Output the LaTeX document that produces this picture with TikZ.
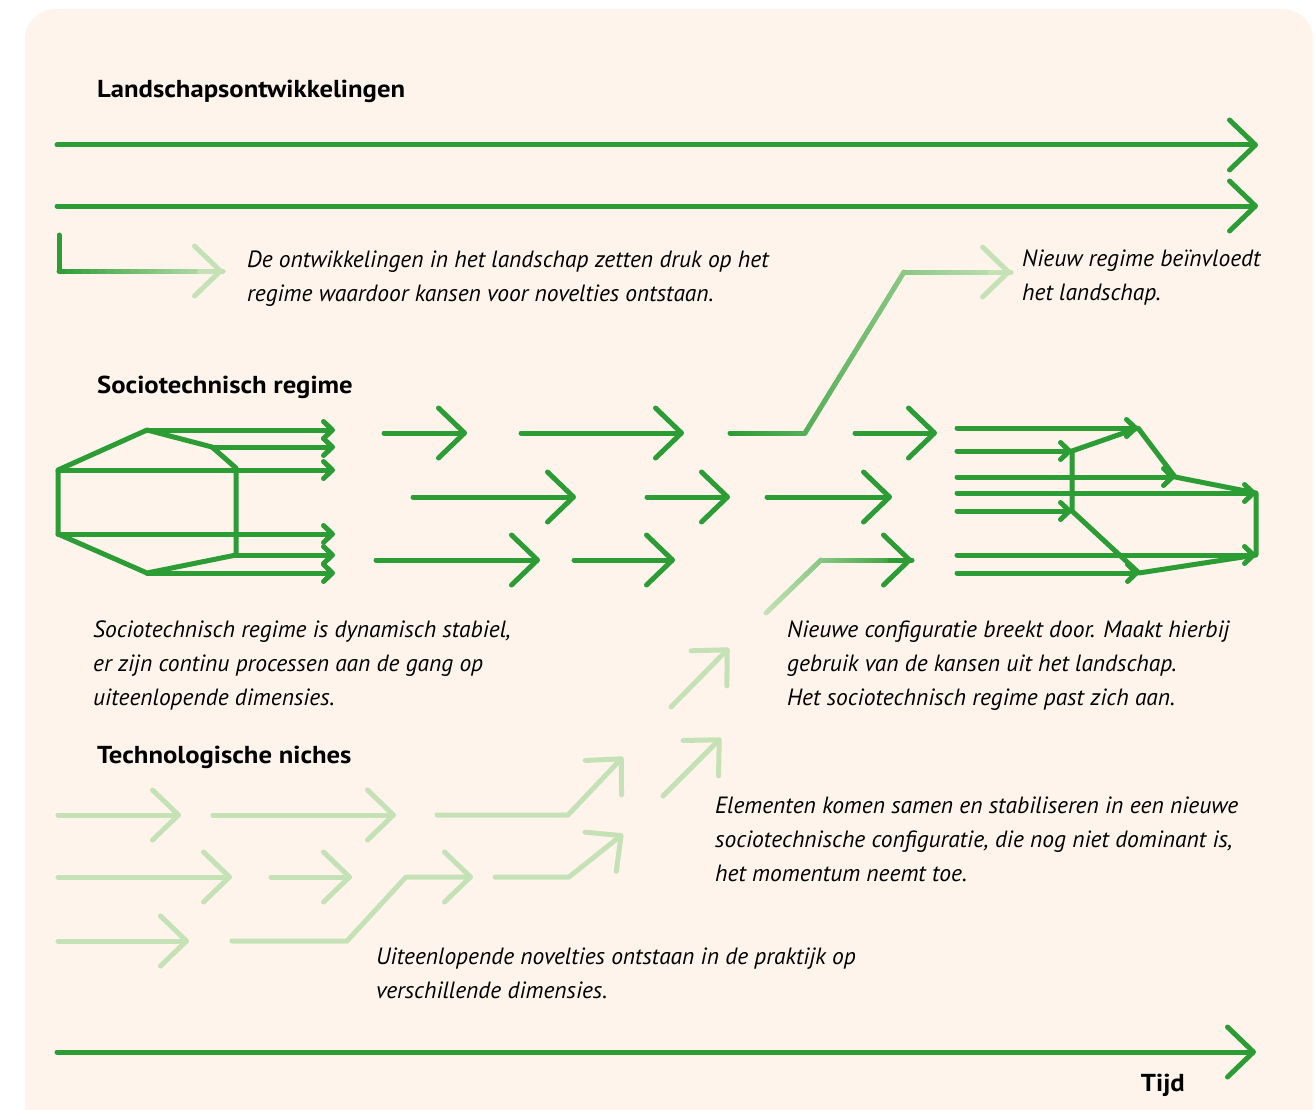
\documentclass[tikz,border=0pt]{standalone}
\usepackage{fontspec}
\setmainfont{PT Sans}
\newfontfamily\headfont{PT Sans}[FakeStretch=1.09]
\usetikzlibrary{arrows.meta,calc}
\definecolor{dkgreen}{HTML}{2C9C34}
\definecolor{ltgreen}{HTML}{C4E2B6}
\definecolor{peach}{HTML}{FEF4EC}
\tikzset{
  ln/.style={line width=5pt,line cap=round,line join=round,dkgreen},
  big/.style={ln,-{Straight Barb[length=26pt,width=50pt,round]}},
  sm/.style={ln,-{Straight Barb[length=9pt,width=17pt,round]}},
  nich/.style={big,ltgreen},
  txt/.style={font=\fontsize{23.5}{34}\selectfont\itshape,align=left,anchor=base west,inner sep=0pt},
  ttl/.style={font=\fontsize{24.5}{34}\selectfont\headfont\bfseries,anchor=base west,inner sep=0pt}
}
% piece of a line whose colour runs from #3 to #4 (percent of dkgreen)
\newcommand\gradseg[4]{%
  \foreach \k in {1,...,20}{%
    \pgfmathsetmacro\pc{#3+(#4-#3)*(\k-0.5)/20}%
    \draw[ln,color=dkgreen!\pc!ltgreen] ($(#1)!{(\k-1)/20}!(#2)$) -- ($(#1)!{\k/20}!(#2)$);
  }}
\begin{document}
\begin{tikzpicture}[x=1pt,y=-1pt]
  \useasboundingbox (0,0) rectangle (1316,1110);
  \begin{scope}
    \clip (0,0) rectangle (1316,1110);
    \fill[peach,rounded corners=30pt] (25,9) rectangle (1313,1160);
  \end{scope}

  % landschap
  \node[ttl] (land) at (97,98) {Landschapsontwikkelingen};
  \draw[big] (57,145) -- (1258,145);
  \draw[big] (57,206) -- (1258,206);
  \coordinate (d0) at (59,235);
  \coordinate (d1) at (59,271);
  \coordinate (d2) at (223,271);
  \draw[ln] (d0) -- (d1);
  \gradseg{d1}{d2}{100}{0}
  \draw[big,ltgreen] (200,271) -- (d2);
  \node[txt] (druk) at (247,301) {De ontwikkelingen in het landschap zetten druk op het\\regime waardoor kansen voor novelties ontstaan.};

  \coordinate (n0) at (730,433);
  \coordinate (n1) at (805,433);
  \coordinate (n2) at (904,272);
  \coordinate (n3) at (1011,272);
  \gradseg{n0}{n1}{100}{73.3}
  \gradseg{n1}{n2}{73.3}{38.1}
  \gradseg{n2}{n3}{38.1}{0}
  \draw[big,ltgreen] (990,272) -- (n3);
  \node[txt] (invl) at (1022,300) {Nieuw regime beïnvloedt\\het landschap.};

  % regime
  \node[ttl] (regime) at (97,393) {Sociotechnisch regime};
  \coordinate (a1) at (58,470);
  \coordinate (a2) at (147,430);
  \coordinate (a3) at (212,447);
  \coordinate (a4) at (236,468);
  \coordinate (a5) at (236,555);
  \coordinate (a6) at (147,573);
  \coordinate (a7) at (58,534);
  \draw[ln] (a1) -- (a2) -- (a3) -- (a4) -- (a5) -- (a6) -- (a7) -- cycle;
  \foreach \p/\y in {a2/430,a3/447,a1/470,a7/534,a5/555,a6/573}
    \draw[sm] (\p) -- (335,\y);

  \foreach \y/\a/\b in {433/384/467,433/521/684,433/855/937,
                        497/413/576,497/647/730,497/767/892,
                        560/376/540,560/574/675}
    \draw[big] (\a,\y) -- (\b,\y);

  \coordinate (m0) at (766,613);
  \coordinate (m1) at (821,560);
  \coordinate (m2) at (912,560);
  \gradseg{m0}{m1}{0}{37.7}
  \gradseg{m1}{m2}{37.7}{100}
  \draw[big] (890,560) -- (m2);

  \coordinate (b1) at (1072,451);
  \coordinate (b2) at (1138,428);
  \coordinate (b3) at (1175,477);
  \coordinate (b4) at (1256,493);
  \coordinate (b5) at (1256,555);
  \coordinate (b6) at (1139,573);
  \coordinate (b7) at (1072,511);
  \draw[ln] (b1) -- (b2) -- (b3) -- (b4) -- (b5) -- (b6) -- (b7) -- cycle;
  \foreach \p/\y in {b2/428,b1/451,b3/477,b4/493,b7/511,b5/555,b6/573}
    \draw[sm] (957,\y) -- (\p);

  \node[txt] (stab) at (93,705) {Sociotechnisch regime is dynamisch stabiel,\\er zijn continu processen aan de gang op\\uiteenlopende dimensies.};
  \node[txt] (door) at (787,705) {Nieuwe configuratie breekt door. Maakt hierbij\\gebruik van de kansen uit het landschap.\\Het sociotechnisch regime past zich aan.};

  % niches
  \node[ttl] (niches) at (97,763) {Technologische niches};
  \foreach \y/\a/\b in {815/58/181,815/213/396,877/58/232,877/271/352,941/58/189}
    \draw[nich] (\a,\y) -- (\b,\y);
  \draw[nich] (437,815) -- (568,815) -- (623,757);
  \draw[nich] (232,941) -- (347,941) -- (406,877) -- (473,877);
  \draw[nich] (495,877) -- (569,877) -- (623,834);
  \draw[nich] (663,796) -- (721,738);
  \draw[nich] (671,707) -- (729,648);
  \node[txt] (samen) at (715,881) {Elementen komen samen en stabiliseren in een nieuwe\\sociotechnische configuratie, die nog niet dominant is,\\het momentum neemt toe.};
  \node[txt] (prak) at (376,998) {Uiteenlopende novelties ontstaan in de praktijk op\\verschillende dimensies.};

  % tijd
  \draw[big] (57,1052) -- (1256,1052);
  \node[ttl,anchor=base east] (tijd) at (1185,1091) {Tijd};
\end{tikzpicture}
\end{document}
